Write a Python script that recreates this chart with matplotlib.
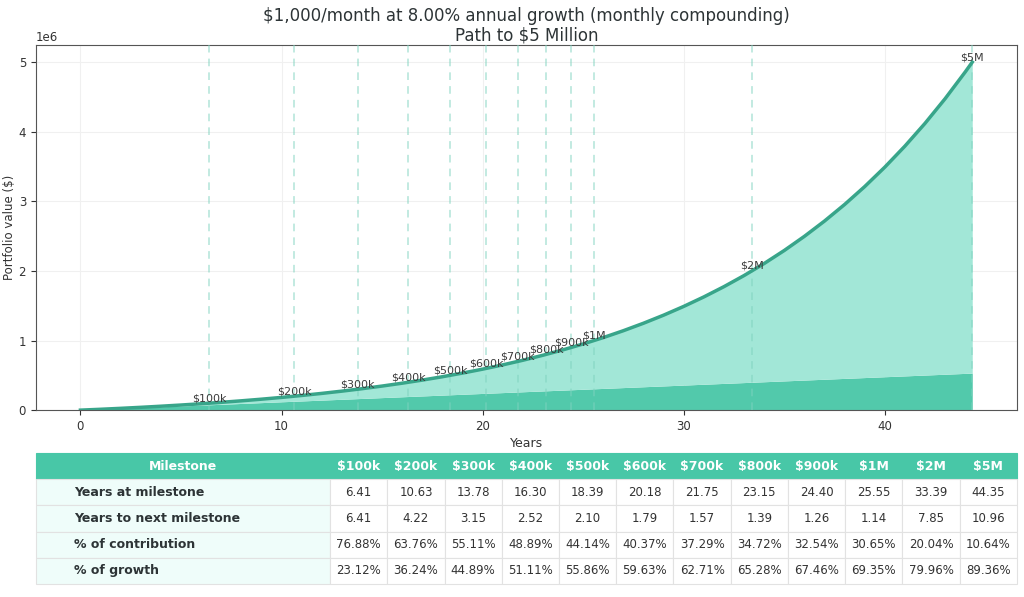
import matplotlib
matplotlib.use("Agg")
import matplotlib.pyplot as plt

# === DATA ===
years = [0, 1, 2, 3, 4, 5, 6, 7, 8, 9, 10, 11, 12, 13, 14, 15, 16, 17, 18, 19, 20, 21,
         22, 23, 24, 25, 26, 27, 28, 29, 30, 31, 32, 33, 34, 35, 36, 37, 38, 39, 40,
         41, 42, 43, 44, 44.35]
# portfolio value, thousands of $
portfolio_k = [0, 12.4, 25.9, 40.5, 56.4, 73.5, 92.0, 112.1, 133.9, 157.4, 182.9, 210.6,
               240.5, 272.9, 308.0, 346.0, 387.2, 431.8, 480.1, 532.4, 589.0, 650.4, 716.8,
               788.7, 866.6, 951.0, 1042.4, 1141.4, 1248.6, 1364.6, 1490.4, 1626.5, 1774.0,
               1933.6, 2106.6, 2293.8, 2496.7, 2716.4, 2954.3, 3211.9, 3491.0, 3793.2,
               4120.5, 4475.0, 4858.8, 5000.0]
# money put in, thousands of $
contrib_k = [0, 12, 24, 36, 48, 60, 72, 84, 96, 108, 120, 132, 144, 156, 168, 180, 192,
             204, 216, 228, 240, 252, 264, 276, 288, 300, 312, 324, 336, 348, 360, 372,
             384, 396, 408, 420, 432, 444, 456, 468, 480, 492, 504, 516, 528, 532.2]

milestones = ["$100k", "$200k", "$300k", "$400k", "$500k", "$600k", "$700k", "$800k",
              "$900k", "$1M", "$2M", "$5M"]
milestone_values = [100e3, 200e3, 300e3, 400e3, 500e3, 600e3, 700e3, 800e3, 900e3,
                    1e6, 2e6, 5e6]
years_at = [6.41, 10.63, 13.78, 16.30, 18.39, 20.18, 21.75, 23.15, 24.40, 25.55, 33.39, 44.35]
years_next = [6.41, 4.22, 3.15, 2.52, 2.10, 1.79, 1.57, 1.39, 1.26, 1.14, 7.85, 10.96]
pct_contrib = [76.88, 63.76, 55.11, 48.89, 44.14, 40.37, 37.29, 34.72, 32.54, 30.65, 20.04, 10.64]
pct_growth = [23.12, 36.24, 44.89, 51.11, 55.86, 59.63, 62.71, 65.28, 67.46, 69.35, 79.96, 89.36]

# === COLORS ===
LINE = "#38a58a"
LIGHT = "#a2e7d7"
DARK = "#52c9ab"
HEADER = "#48c7a7"
ROWBG = "#effdfa"
TXT = "#2d3436"

portfolio = [v * 1000 for v in portfolio_k]
contrib = [v * 1000 for v in contrib_k]

fig = plt.figure(figsize=(10.24, 5.97), dpi=100)
ax = fig.add_axes([0.035, 0.313, 0.958, 0.612])

# === CHART ===
ax.fill_between(years, 0, contrib, color=DARK, lw=0, zorder=2)
ax.fill_between(years, contrib, portfolio, color=LIGHT, lw=0, zorder=2)
ax.plot(years, portfolio, color=LINE, lw=2.5, zorder=4)

for yr, val, lab in zip(years_at, milestone_values, milestones):
    ax.axvline(yr, color="#7fd3bf", ls=(0, (5, 4)), lw=1.1, alpha=0.6, zorder=3)
    ax.text(yr, val, lab, ha="center", va="bottom", fontsize=8, color="#3b3b3b", zorder=5)

ax.set_ylim(bottom=0)
ax.grid(True, color="#f0f0f0", lw=0.8, zorder=0)
ax.set_axisbelow(True)
for sp in ax.spines.values():
    sp.set_color("#555555")
ax.tick_params(labelsize=8.5, colors="#333333")
ax.yaxis.get_offset_text().set_fontsize(8.5)
ax.set_xlabel("Years", fontsize=9, color="#333333", labelpad=3)
ax.set_ylabel("Portfolio value ($)", fontsize=8.5, color="#333333", labelpad=2)
ax.set_title("$1,000/month at 8.00% annual growth (monthly compounding)\nPath to $5 Million",
             fontsize=12, color=TXT, linespacing=1.1, pad=3)

# === TABLE ===
tax = fig.add_axes([0.035, 0.022, 0.958, 0.219])
tax.axis("off")

rows = [
    ["Years at milestone"] + [f"{v:.2f}" for v in years_at],
    ["Years to next milestone"] + [f"{v:.2f}" for v in years_next],
    ["% of contribution"] + [f"{v:.2f}%" for v in pct_contrib],
    ["% of growth"] + [f"{v:.2f}%" for v in pct_growth],
]
header = ["Milestone"] + milestones
first_w = 0.30
other_w = (1 - first_w) / len(milestones)
tbl = tax.table(cellText=rows, colLabels=header, bbox=[0, 0, 1, 1], cellLoc="center",
                colWidths=[first_w] + [other_w] * len(milestones))
tbl.auto_set_font_size(False)
tbl.set_fontsize(8.5)

for (r, c), cell in tbl.get_celld().items():
    cell.set_edgecolor("#e2e2e2")
    cell.set_linewidth(0.8)
    if r == 0:
        cell.set_facecolor(HEADER)
        cell.set_edgecolor(HEADER)
        cell.get_text().set_color("white")
        cell.get_text().set_fontweight("bold")
        cell.get_text().set_fontsize(9)
    elif c == 0:
        cell.set_facecolor(ROWBG)
        cell.PAD = 0.13
        cell.get_text().set_ha("left")
        cell._loc = "left"
        cell.get_text().set_fontweight("bold")
        cell.get_text().set_color(TXT)
        cell.get_text().set_fontsize(9)
    else:
        cell.set_facecolor("white")
        cell.get_text().set_color("#333333")

fig.savefig("out.png", dpi=100)
